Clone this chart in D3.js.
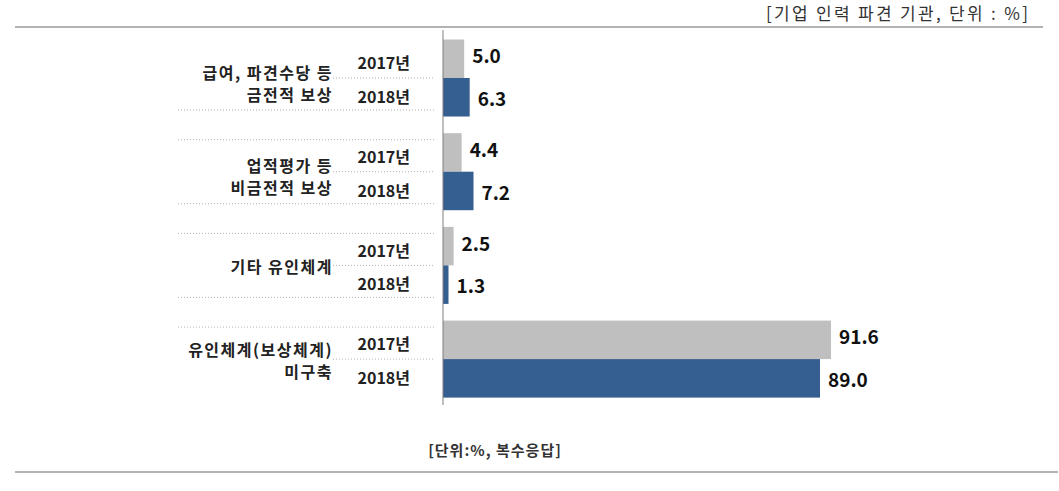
<!DOCTYPE html>
<html><head><meta charset="utf-8">
<script src="https://cdn.jsdelivr.net/npm/d3@7"></script>
<style>
html,body{margin:0;padding:0;background:#fff;}
text{font-family:"Noto Sans CJK KR","Noto Sans",sans-serif;}
</style></head>
<body><svg id="chart" width="1059" height="491"></svg>
<script>
const categories = [["급여, 파견수당 등","금전적 보상"],["업적평가 등","비금전적 보상"],["기타 유인체계"],["유인체계(보상체계)","미구축"]];
const years = ["2017년","2018년"];
const values2017 = [5.0, 4.4, 2.5, 91.6];
const values2018 = [6.3, 7.2, 1.3, 89.0];
const titleText = "[기업 인력 파견 기관, 단위 : %]";
const footText = "[단위:%, 복수응답]";

const svg = d3.select("#chart");
const colors = ["#BFBFBF", "#365F91"];

const x = d3.scaleLinear().domain([0, 100]).range([443, 443 + 423.6]);
const y = d3.scaleBand().domain(d3.range(categories.length)).range([39.5, 397.6]).paddingInner(0.178).paddingOuter(0);
const bh = y.bandwidth()/2;

// top & bottom rules
svg.append("line").attr("x1",15).attr("x2",1043).attr("y1",27).attr("y2",27).attr("stroke","#9a9a9a").attr("stroke-width",1.5);
svg.append("line").attr("x1",15).attr("x2",1058).attr("y1",472).attr("y2",472).attr("stroke","#9a9a9a").attr("stroke-width",1.5);

svg.append("text").attr("x",1028).attr("y",20).attr("text-anchor","end")
  .attr("font-size",17).attr("fill","#333").attr("textLength",262).attr("lengthAdjust","spacing")
  .text(titleText);

// dotted guide lines
const dots = svg.append("g").attr("stroke","#b0b0b0").attr("stroke-width",1).attr("stroke-dasharray","1,2");
categories.forEach((c,i)=>{
  const y0 = y(i);
  dots.append("line").attr("x1",333).attr("x2",435).attr("y1",y0+bh).attr("y2",y0+bh);
  if(i>0) dots.append("line").attr("x1",178).attr("x2",435).attr("y1",y0+6.5).attr("y2",y0+6.5);
  if(i<3) dots.append("line").attr("x1",178).attr("x2",435).attr("y1",y0+70.5).attr("y2",y0+70.5);
});

const series = [values2017, values2018];
series.forEach((vals,s)=>{
  svg.append("g").selectAll("rect").data(vals).join("rect")
    .attr("x", x(0)).attr("y",(d,i)=>y(i)+s*bh).attr("width",d=>x(d)-x(0)).attr("height",bh)
    .attr("fill",colors[s]);
  svg.append("g").selectAll("text").data(vals).join("text")
    .attr("x",d=>x(d)+8).attr("y",(d,i)=>y(i)+s*bh+bh/2+(s?2:-2)).attr("dy","0.35em")
    .attr("font-size",19).attr("font-weight","bold").attr("fill","#111")
    .text(d=>d.toFixed(1));
  svg.append("g").selectAll("text").data(vals).join("text")
    .attr("x",410).attr("y",(d,i)=>y(i)+s*bh+bh/2+(s?0:5)).attr("dy","0.35em")
    .attr("text-anchor","end").attr("font-size",16).attr("font-weight","bold").attr("fill","#222")
    .text(years[s]);
});

// category labels
const offs = [6,6,2,2];
categories.forEach((lines,i)=>{
  const cy = y(i)+bh+offs[i];
  const t = svg.append("text").attr("x",333).attr("text-anchor","end").attr("font-size",16).attr("font-weight","bold").attr("fill","#222").attr("letter-spacing",1.5);
  lines.forEach((l,k)=>{
    t.append("tspan").attr("x",333).attr("y",cy + (k - (lines.length-1)/2)*22).attr("dy","0.35em").text(l);
  });
});

// axis line
svg.append("line").attr("x1",x(0)).attr("x2",x(0)).attr("y1",30).attr("y2",405).attr("stroke","#7f7f7f").attr("stroke-width",1);

svg.append("text").attr("x",495).attr("y",451).attr("dy","0.35em").attr("text-anchor","middle")
  .attr("font-size",15).attr("font-weight","bold").attr("fill","#333").attr("letter-spacing",1).text(footText);
</script></body></html>
